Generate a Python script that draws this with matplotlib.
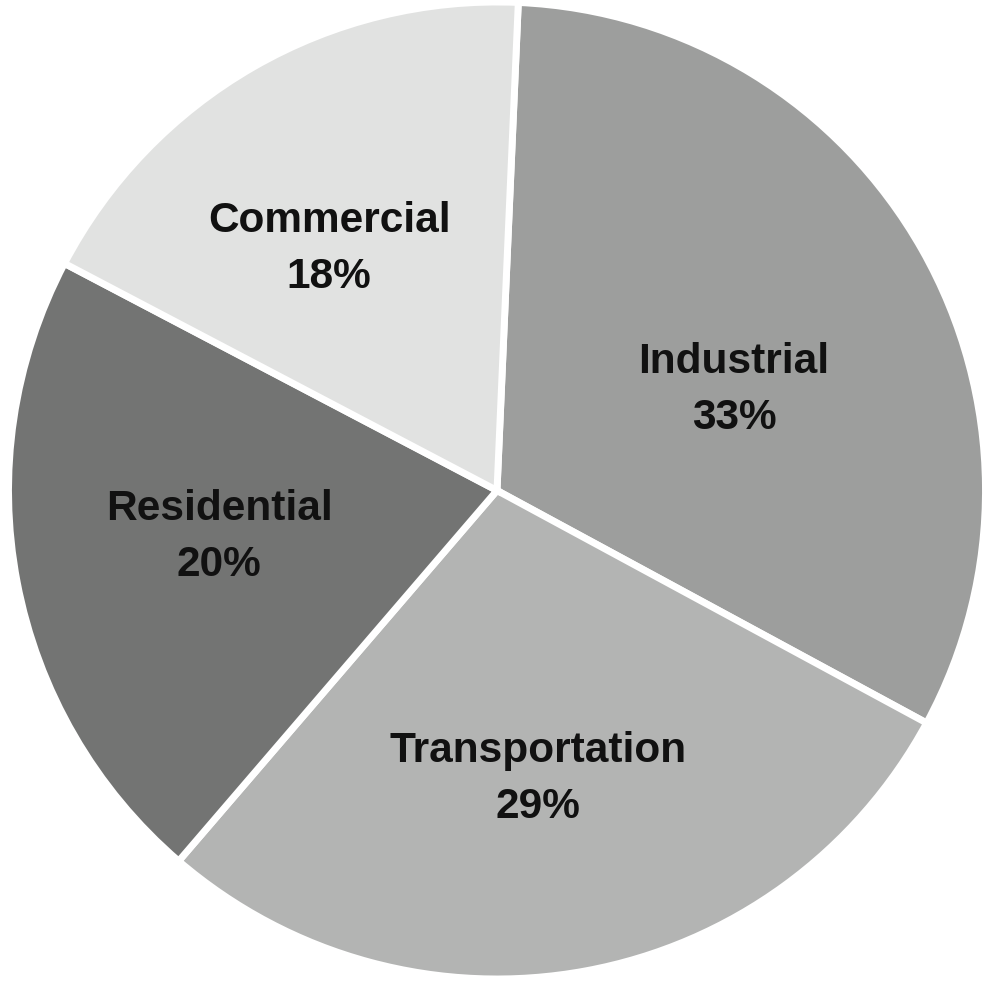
import numpy as np
import matplotlib.pyplot as plt

# wedge sizes, label text as printed on the chart
sectors = ['Industrial', 'Transportation', 'Residential', 'Commercial']
shares = [32.2, 28.4, 21.4, 18.0]
pct_labels = ['33%', '29%', '20%', '18%']
colors = ['#9d9e9d', '#b3b4b3', '#737473', '#e1e2e1']

# label placement: fraction of radius and angle shift from the wedge middle
label_dist = [0.527, 0.597, 0.577, 0.602]
label_shift = [-6.6, -2.4, -1.3, 4.9]

fig = plt.figure(figsize=(10, 9.84), dpi=100)
ax = fig.add_axes([0, 0, 1, 1])

cx, cy, r = 497, 493.5, 488.5
wedges, _ = ax.pie(shares, colors=colors, startangle=87.5, counterclock=False,
                   center=(cx, cy), radius=r,
                   wedgeprops=dict(edgecolor='white', linewidth=5))

for w, name, pct, d, s in zip(wedges, sectors, pct_labels, label_dist, label_shift):
    mid = np.deg2rad((w.theta1 + w.theta2) / 2 + s)
    ax.text(cx + d * r * np.cos(mid), cy + d * r * np.sin(mid), f'{name}\n{pct}',
            ha='center', va='center', fontsize=30.5, fontweight='bold',
            family='Liberation Sans', color='#111111', linespacing=1.52)

ax.set_xlim(0, 1000)
ax.set_ylim(0, 984)
ax.set_aspect('equal')
ax.axis('off')

fig.savefig('out.png', dpi=100)
